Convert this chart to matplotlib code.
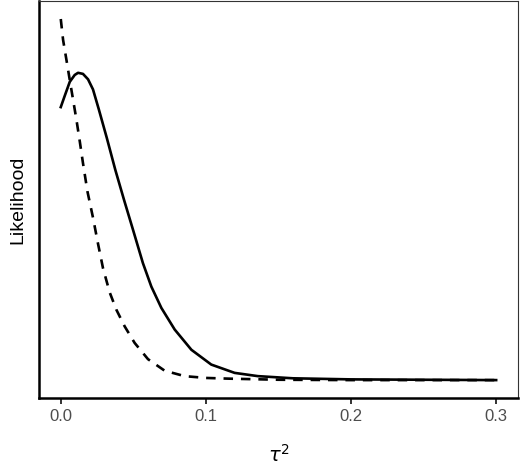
import matplotlib
matplotlib.use('Agg')
import matplotlib.pyplot as plt

plt.rcParams['font.family'] = ['Liberation Sans', 'DejaVu Sans']
plt.rcParams['mathtext.fontset'] = 'dejavusans'

# dashed curve
x_dash = [0.0000, 0.0016, 0.0039, 0.0062, 0.0085, 0.0108, 0.0131, 0.0153, 0.0184,
          0.0222, 0.0257, 0.0291, 0.0337, 0.0383, 0.0440, 0.0509, 0.0601, 0.0716,
          0.0853, 0.1000, 0.1160, 0.1500, 0.2000, 0.3000]
y_dash = [1.000, 0.942, 0.887, 0.831, 0.776, 0.721, 0.661, 0.601, 0.522,
          0.450, 0.377, 0.310, 0.243, 0.195, 0.149, 0.103, 0.058, 0.026,
          0.011, 0.006, 0.004, 0.001, 0.000, 0.000]

# solid curve
x_solid = [0.0000, 0.0028, 0.0062, 0.0096, 0.0119, 0.0153, 0.0188, 0.0222, 0.0262,
           0.0317, 0.0376, 0.0436, 0.0498, 0.0566, 0.0624, 0.0693, 0.0785, 0.0900,
           0.1037, 0.1198, 0.1358, 0.1600, 0.2000, 0.2500, 0.3000]
y_solid = [0.756, 0.788, 0.826, 0.845, 0.851, 0.848, 0.833, 0.805, 0.750,
           0.671, 0.582, 0.499, 0.416, 0.324, 0.259, 0.200, 0.140, 0.084,
           0.043, 0.020, 0.011, 0.005, 0.002, 0.001, 0.000]

x_ticks = [0.0, 0.1, 0.2, 0.3]
x_tick_labels = ['0.0', '0.1', '0.2', '0.3']

fig = plt.figure(figsize=(5.2, 4.74), dpi=100)
ax = fig.add_axes([0.075, 0.160, 0.921, 0.838])

ax.plot(x_solid, y_solid, color='black', lw=1.9, solid_joinstyle='round')
ax.plot(x_dash, y_dash, color='black', lw=1.9, linestyle=(0, (3.6, 3.0)),
        dash_joinstyle='round')

ax.set_xlim(-0.015, 0.315)
ax.set_ylim(-0.05, 1.05)

ax.set_xticks(x_ticks)
ax.set_xticklabels(x_tick_labels)
ax.set_yticks([])
ax.tick_params(axis='x', length=4, width=1.4, color='#333333', pad=4,
               labelsize=12, labelcolor='#4D4D4D')

for side in ['left', 'bottom']:
    ax.spines[side].set_linewidth(1.8)
    ax.spines[side].set_color('black')
for side in ['top', 'right']:
    ax.spines[side].set_linewidth(0.8)
    ax.spines[side].set_color('#333333')

ax.set_xlabel(r'$\tau^2$', fontsize=14, labelpad=14)
ax.set_ylabel('Likelihood', fontsize=14, labelpad=9)

fig.savefig('out.png', dpi=100, facecolor='white')
